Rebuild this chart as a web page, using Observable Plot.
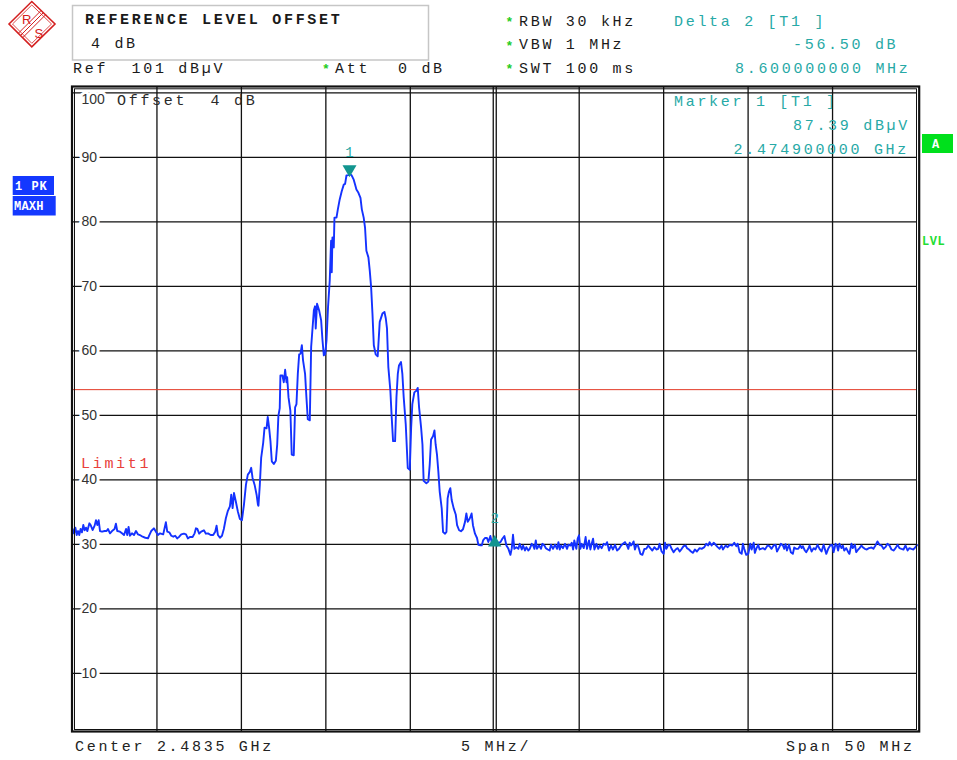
<!DOCTYPE html>
<html>
<head>
<meta charset="utf-8">
<script src="https://cdn.jsdelivr.net/npm/d3@7"></script>
<script src="https://cdn.jsdelivr.net/npm/@observablehq/plot@0.6"></script>
<style>
  html, body { margin: 0; padding: 0; background: #fff; }
  #wrap { position: relative; width: 957px; height: 760px; overflow: hidden; }
  #wrap svg { position: absolute; left: 0; top: 0; }
  text { white-space: pre; }
</style>
</head>
<body>
<div id="wrap"></div>
<script>
// ---- Analyzer settings ----
const centerGHz = 2.4835;
const spanMHz = 50;
const divMHz = 5;
const refLevel = 101;          // dBµV, top of the screen
const displayRange = 100;      // dB shown vertically
const refOffsetDb = 4;
const limitLevel = 54;         // Limit1, dBµV

// ---- Markers ----
const marker1FreqGHz = 2.4749;
const marker1Level = 87.39;
const deltaLevel = -56.50;
const deltaFreqMHz = 8.6;

// ---- Grid ----
const levelTicks = [10, 20, 30, 40, 50, 60, 70, 80, 90, 100];

// ---- Trace 1 (PK, max hold): [frequency MHz, level dBµV] ----
const lowerNoise = [
  [2458.51,32.40],[2458.59,31.72],[2458.67,32.60],[2458.75,31.46],[2458.83,32.08],[2458.90,31.46],[2458.98,32.40],
  [2459.06,31.88],[2459.14,33.02],[2459.22,32.19],[2459.30,32.60],[2459.38,32.08],[2459.50,33.28],[2459.57,33.02],
  [2459.69,32.24],[2459.81,32.92],[2459.89,33.75],[2459.97,33.02],[2460.05,33.75],[2460.13,32.08],[2460.25,31.98],
  [2460.40,32.08],[2460.52,32.08],[2460.60,32.40],[2460.72,31.72],[2460.84,32.08],[2460.99,32.40],[2461.07,33.23],
  [2461.15,32.08],[2461.31,31.98],[2461.43,31.72],[2461.55,31.46],[2461.67,32.40],[2461.74,31.46],[2461.82,32.71],
  [2461.90,31.35],[2462.02,31.72],[2462.14,31.46],[2462.26,32.08],[2462.38,31.56],[2462.49,31.46],[2462.65,31.20],
  [2462.81,31.04],[2462.97,30.94],[2463.05,31.46],[2463.16,32.08],[2463.32,32.50],[2463.44,31.98],[2463.56,31.46],
  [2463.68,31.72],[2463.87,31.56],[2464.03,33.44],[2464.11,31.98],[2464.23,31.88],[2464.35,31.35],[2464.47,31.20],
  [2464.58,31.35],[2464.70,30.94],[2464.82,31.20],[2464.94,31.56],[2465.10,31.67],[2465.22,31.56],[2465.33,30.94],
  [2465.45,31.15],[2465.61,31.15],[2465.73,31.72],[2465.81,32.50],[2465.89,32.40],[2466.00,31.67],[2466.12,31.98],
  [2466.28,32.19],[2466.40,31.67],[2466.52,31.72],[2466.68,31.46],[2466.83,31.46],[2466.95,31.98],[2467.03,32.92],
  [2467.11,31.46],[2467.23,31.04],[2467.35,31.35],[2467.46,32.40]
];
const signalBand = [
  [2467.58,34.06],[2467.70,35.21],[2467.82,35.89],[2467.90,37.71],[2467.98,35.63],[2468.06,37.97],[2468.17,36.67],
  [2468.29,35.10],[2468.41,33.96],[2468.53,33.75],[2468.65,36.15],[2468.77,39.27],[2468.88,40.83],[2469.00,41.25],
  [2469.08,41.88],[2469.16,40.31],[2469.28,39.27],[2469.40,37.71],[2469.48,36.15],[2469.51,36.00],[2469.59,39.24],
  [2469.67,43.41],[2469.79,45.76],[2469.87,48.11],[2469.99,48.00],[2470.06,49.78],[2470.14,48.11],[2470.22,46.02],
  [2470.30,42.89],[2470.42,42.47],[2470.54,42.99],[2470.62,45.50],[2470.69,49.93],[2470.77,51.13],[2470.81,56.19],
  [2470.93,56.19],[2471.01,55.15],[2471.09,57.08],[2471.17,55.15],[2471.21,55.93],[2471.29,52.80],[2471.40,50.71],
  [2471.48,43.93],[2471.60,43.83],[2471.68,51.24],[2471.76,51.76],[2471.84,56.45],[2471.92,59.48],[2472.00,59.58],
  [2472.08,60.89],[2472.15,58.54],[2472.27,56.45],[2472.35,52.80],[2472.43,49.41],[2472.55,49.25],[2472.63,60.63],
  [2472.79,66.31],[2472.86,66.92],[2472.90,63.49],[2472.98,67.33],[2473.10,66.31],[2473.22,64.77],[2473.30,61.69],
  [2473.38,59.32],[2473.46,59.48],[2473.54,61.69],[2473.63,66.82],[2473.73,70.92],[2473.81,77.08],[2473.85,72.21],
  [2473.89,77.59],[2473.97,76.05],[2474.01,80.67],[2474.13,80.67],[2474.21,81.95],[2474.32,83.49],[2474.44,84.77],
  [2474.56,85.79],[2474.64,85.90],[2474.72,87.20],[2474.83,87.25],[2474.90,87.39],[2475.00,87.30],[2475.07,87.00],
  [2475.15,86.56],[2475.23,85.79],[2475.31,85.03],[2475.43,84.51],[2475.55,83.74],[2475.63,81.95],[2475.74,80.67],
  [2475.82,79.13],[2475.90,75.54],[2476.02,74.51],[2476.10,72.46],[2476.18,69.90],[2476.26,65.79],[2476.34,60.89],
  [2476.45,59.48],[2476.57,59.17],[2476.69,64.51],[2476.85,65.79],[2476.97,66.05],[2477.05,65.03],[2477.12,63.49],
  [2477.20,57.50],[2477.32,53.84],[2477.40,49.67],[2477.48,46.02],[2477.60,46.02],[2477.68,52.80],[2477.76,56.45],
  [2477.83,57.76],[2477.95,58.28],[2478.03,56.45],[2478.11,52.80],[2478.23,48.63],[2478.35,41.85],[2478.47,41.59],
  [2478.55,48.11],[2478.62,51.76],[2478.74,53.58],[2478.86,53.84],[2478.94,54.26],[2479.02,51.24],[2479.14,48.11],
  [2479.22,45.50],[2479.29,39.86],[2479.45,39.50],[2479.57,39.76],[2479.65,42.37],[2479.73,46.28],[2479.85,46.80],
  [2479.93,47.69],[2480.00,45.50],[2480.08,43.93],[2480.16,41.32],[2480.24,38.20],[2480.36,35.59],[2480.44,31.93],
  [2480.56,31.67],[2480.64,31.93],[2480.71,37.15],[2480.79,38.20],[2480.87,38.72],[2480.95,36.89],[2481.07,35.59],
  [2481.19,34.65],[2481.27,32.98],[2481.39,32.20],[2481.50,32.04],[2481.62,32.35],[2481.74,33.50],[2481.82,34.80],
  [2481.90,33.50],[2482.02,34.02],[2482.13,34.80],[2482.21,32.98],[2482.33,31.67],[2482.45,31.00],[2482.53,29.95],
  [2482.65,29.85],[2482.73,29.85],[2482.81,30.63],[2482.92,31.00],[2483.04,31.00],[2483.12,30.37],[2483.24,31.31],
  [2483.32,30.37],[2483.44,30.27],[2483.50,30.89]
];
const upperNoise = [
  [2483.64,29.84],[2483.72,30.26],[2483.84,30.36],[2483.95,30.89],[2484.07,31.30],[2484.19,29.84],[2484.31,29.32],
  [2484.43,28.39],[2484.51,29.43],[2484.58,31.51],[2484.66,29.32],[2484.78,29.58],[2484.90,29.32],[2484.98,30.10],
  [2485.10,29.22],[2485.18,29.84],[2485.29,29.06],[2485.37,29.58],[2485.49,29.06],[2485.57,29.32],[2485.69,30.10],
  [2485.77,29.84],[2485.85,29.32],[2485.93,30.63],[2486.00,29.32],[2486.12,29.84],[2486.24,29.32],[2486.32,30.10],
  [2486.44,29.84],[2486.52,29.43],[2486.64,29.22],[2486.75,29.06],[2486.83,29.95],[2486.95,29.32],[2487.07,29.95],
  [2487.19,29.32],[2487.27,30.36],[2487.35,29.22],[2487.43,29.84],[2487.54,29.43],[2487.66,30.10],[2487.78,29.32],
  [2487.86,29.95],[2487.98,29.84],[2488.06,30.26],[2488.14,29.22],[2488.21,30.63],[2488.33,29.32],[2488.41,30.89],
  [2488.49,31.41],[2488.57,29.32],[2488.65,30.10],[2488.77,29.43],[2488.88,31.15],[2488.96,29.32],[2489.08,30.63],
  [2489.16,29.22],[2489.24,30.10],[2489.32,30.89],[2489.40,29.22],[2489.52,30.10],[2489.63,29.32],[2489.71,29.84],
  [2489.83,29.43],[2489.95,30.10],[2490.07,29.95],[2490.15,30.36],[2490.27,29.06],[2490.38,29.84],[2490.50,29.22],
  [2490.62,29.95],[2490.74,29.06],[2490.86,29.32],[2490.98,29.84],[2491.09,30.10],[2491.21,30.36],[2491.33,29.84],
  [2491.41,29.32],[2491.49,30.26],[2491.57,29.84],[2491.65,30.10],[2491.72,30.47],[2491.80,29.22],[2491.88,29.84],
  [2491.96,29.95],[2492.04,29.32],[2492.12,28.54],[2492.24,28.39],[2492.36,29.32],[2492.47,29.32],[2492.59,29.84],
  [2492.71,29.43],[2492.83,29.06],[2492.95,29.58],[2493.07,29.22],[2493.18,29.32],[2493.26,30.10],[2493.38,28.91],
  [2493.50,28.54],[2493.58,30.26],[2493.66,29.32],[2493.78,29.95],[2493.89,29.84],[2493.97,29.32],[2494.09,28.80],
  [2494.21,29.22],[2494.33,29.43],[2494.45,28.91],[2494.57,29.32],[2494.68,29.74],[2494.80,29.84],[2494.88,29.43],
  [2495.00,29.22],[2495.12,28.91],[2495.24,28.70],[2495.35,29.22],[2495.47,28.91],[2495.63,29.43],[2495.75,29.32],
  [2495.91,29.58],[2496.02,30.10],[2496.14,29.84],[2496.22,30.36],[2496.34,29.84],[2496.46,30.26],[2496.58,29.95],
  [2496.70,29.58],[2496.81,29.32],[2496.93,29.84],[2497.01,29.22],[2497.17,29.84],[2497.29,29.58],[2497.41,29.95],
  [2497.56,29.84],[2497.68,30.26],[2497.80,29.74],[2497.88,30.10],[2498.00,28.80],[2498.12,28.54],[2498.19,30.10],
  [2498.27,29.32],[2498.39,28.39],[2498.51,28.54],[2498.63,30.10],[2498.71,29.22],[2498.83,30.26],[2498.90,28.70],
  [2498.98,29.32],[2499.10,29.95],[2499.18,29.22],[2499.26,29.32],[2499.38,29.43],[2499.50,29.22],[2499.65,29.84],
  [2499.77,29.74],[2499.89,29.32],[2500.01,29.84],[2500.13,29.95],[2500.21,28.91],[2500.32,29.43],[2500.44,30.10],
  [2500.56,29.84],[2500.64,29.32],[2500.72,30.05],[2500.80,29.06],[2500.92,29.95],[2501.03,28.80],[2501.15,28.54],
  [2501.23,29.53],[2501.35,29.32],[2501.47,29.32],[2501.59,29.84],[2501.67,29.43],[2501.74,29.74],[2501.86,29.06],
  [2501.94,28.80],[2502.06,29.32],[2502.14,29.84],[2502.26,28.91],[2502.38,29.43],[2502.49,29.22],[2502.61,29.95],
  [2502.73,29.32],[2502.85,28.91],[2502.97,29.95],[2503.13,28.54],[2503.24,29.32],[2503.36,29.84],[2503.48,29.95],
  [2503.56,28.80],[2503.68,30.10],[2503.76,29.84],[2503.83,29.06],[2503.91,30.10],[2504.03,29.43],[2504.11,29.84],
  [2504.19,29.06],[2504.31,29.43],[2504.43,28.80],[2504.50,28.54],[2504.62,30.10],[2504.70,29.43],[2504.82,29.95],
  [2504.90,28.80],[2505.02,29.22],[2505.10,29.43],[2505.21,29.84],[2505.29,29.58],[2505.41,29.32],[2505.53,29.22],
  [2505.65,29.43],[2505.81,29.53],[2505.92,29.32],[2506.04,29.84],[2506.16,30.47],[2506.28,29.95],[2506.40,29.84],
  [2506.52,29.32],[2506.63,29.58],[2506.75,30.10],[2506.87,29.84],[2506.99,29.22],[2507.11,29.06],[2507.23,29.43],
  [2507.35,29.95],[2507.46,29.43],[2507.58,29.32],[2507.70,29.22],[2507.82,29.84],[2507.94,29.06],[2508.05,29.43],
  [2508.17,29.32],[2508.29,29.22],[2508.41,29.58],[2508.50,29.90]
];

// ---- Derived values ----
const centerMHz = centerGHz * 1000;
const startMHz = centerMHz - spanMHz / 2;
const stopMHz = centerMHz + spanMHz / 2;
const trace = [...lowerNoise, ...signalBand, ...upperNoise].map(([f, level]) => ({f, level}));
const marker1 = [{id: "1", f: marker1FreqGHz * 1000, level: marker1Level}];
const marker2 = [{id: "2", f: marker1FreqGHz * 1000 + deltaFreqMHz, level: marker1Level + deltaLevel}];
const divisions = d3.range(1, spanMHz / divMHz).map(i => startMHz + i * divMHz);
const sideGrid = divisions.filter(f => Math.abs(f - centerMHz) > 1e-6);

const MONO = "'Liberation Mono', 'Courier New', monospace";
const SANS = "'Liberation Sans', Arial, sans-serif";
const TEAL = "#27a9a6";
const MARK = "#12958f";
const GRID = "#111";

const chart = Plot.plot({
  width: 957,
  height: 760,
  marginLeft: 72,
  marginRight: 40.5,
  marginTop: 86,
  marginBottom: 29,
  x: {domain: [startMHz, stopMHz], axis: null},
  y: {domain: [refLevel - displayRange, refLevel], axis: null},
  style: {background: "white"},
  marks: [
    Plot.ruleY(levelTicks, {stroke: GRID, strokeWidth: 1.3}),
    Plot.ruleX(sideGrid, {stroke: GRID, strokeWidth: 1.3}),
    Plot.ruleX([centerMHz], {stroke: GRID, strokeWidth: 1.3, dx: -1.5}),
    Plot.ruleX([centerMHz], {stroke: GRID, strokeWidth: 1.3, dx: 1.5}),
    Plot.ruleY([limitLevel], {stroke: "#e33a26", strokeWidth: 1}),
    // level scale labels sit inside the grid with a white knock-out
    Plot.text(levelTicks.filter(v => v < 100), {
      y: d => d, text: d => String(d), frameAnchor: "left", dx: 9, textAnchor: "start",
      fill: "#333", stroke: "white", strokeWidth: 6, fontFamily: SANS, fontSize: 14,
      style: "letter-spacing:1.6px"
    }),
    Plot.text([100], {
      y: d => d, text: d => String(d), frameAnchor: "left", dx: 9, dy: 7, textAnchor: "start",
      fill: "#333", stroke: "white", strokeWidth: 6, fontFamily: SANS, fontSize: 14,
      style: "letter-spacing:1.6px"
    }),
    Plot.line(trace, {x: "f", y: "level", stroke: "#1432ff", strokeWidth: 1.9, strokeLinejoin: "round"}),
    // marker 1: downward triangle resting on the trace
    Plot.dot(marker1, {x: "f", y: "level", symbol: "triangle", rotate: 180, r: 5.2, fill: MARK, dy: -5}),
    Plot.text(marker1, {x: "f", y: "level", text: "id", dy: -22, fill: TEAL, fontFamily: MONO, fontSize: 14}),
    // marker 2 (delta): upward triangle
    Plot.dot(marker2, {x: "f", y: "level", symbol: "triangle", r: 5, fill: MARK, dy: 4}),
    Plot.text(marker2, {x: "f", y: "level", text: "id", dy: -20, fill: TEAL, fontFamily: MONO, fontSize: 14}),
    Plot.frame({stroke: GRID, strokeWidth: 2.2, insetLeft: -0.5, insetRight: -2.2, insetTop: 0, insetBottom: 0}),
    Plot.frame({stroke: GRID, strokeWidth: 1, insetLeft: 2, insetRight: 0.5, insetTop: 2.3, insetBottom: 2})
  ]
});

const wrap = document.getElementById("wrap");
wrap.appendChild(chart);

// ---- Instrument annotations around the diagram ----
const ov = d3.select(wrap).append("svg").attr("width", 957).attr("height", 760)
  .style("pointer-events", "none");

function label(x, y, s, {fill = "#1a1a1a", weight = "normal", size = 15, spacing = 2.7, family = MONO, anchor = "start"} = {}) {
  ov.append("text").attr("x", x).attr("y", y).text(s)
    .attr("fill", fill).attr("font-family", family).attr("font-size", size)
    .attr("font-weight", weight).attr("text-anchor", anchor)
    .style("letter-spacing", spacing + "px");
}
function star(x, y) {
  label(x, y, "*", {fill: "#22cc22", weight: "bold", size: 13, spacing: 0});
}

// logo
const logo = ov.append("g").attr("stroke", "#d42020").attr("fill", "none");
logo.append("polygon").attr("points", "9,24 31.8,1.5 55,24 31.8,46.8").attr("stroke-width", 1.6);
logo.append("polygon").attr("points", "12.5,24 31.8,5 51.5,24 31.8,43.3").attr("stroke-width", 0.8);
[-2.2, 0, 2.2].forEach(o => {
  logo.append("line").attr("x1", 20.5 + o).attr("y1", 35.5 + o).attr("x2", 43.5 + o).attr("y2", 12.5 + o)
    .attr("stroke-width", 1);
});
ov.append("text").attr("x", 22).attr("y", 24).text("R").attr("fill", "#d42020")
  .attr("font-family", SANS).attr("font-size", 13);
ov.append("text").attr("x", 34.5).attr("y", 37.5).text("S").attr("fill", "#d42020")
  .attr("font-family", SANS).attr("font-size", 13);

// reference level offset box
ov.append("rect").attr("x", 72.5).attr("y", 5.5).attr("width", 356).attr("height", 54.5)
  .attr("fill", "none").attr("stroke", "#c6c6c6").attr("stroke-width", 1.5);
label(85, 24, "REFERENCE LEVEL OFFSET", {weight: "bold"});
label(91, 48, `${refOffsetDb} dB`);

label(73, 72.5, `Ref  ${refLevel} dBµV`);
star(322, 73);
label(335, 72.5, "Att");
label(398, 72.5, "0 dB");

star(505.5, 26);
label(519, 25.5, "RBW 30 kHz");
star(505.5, 49.5);
label(519, 49, "VBW 1 MHz");
star(505.5, 73);
label(519, 72.5, "SWT 100 ms");

label(674, 25.5, "Delta 2 [T1 ]", {fill: TEAL});
label(793, 49, `${deltaLevel.toFixed(2)} dB`, {fill: TEAL});
label(735, 72.5, `${deltaFreqMHz.toFixed(9)} MHz`, {fill: TEAL});

label(674, 106, "Marker 1 [T1 ]", {fill: TEAL});
label(793, 130, `${marker1Level.toFixed(2)} dBµV`, {fill: TEAL});
label(733.5, 153.5, `${marker1FreqGHz.toFixed(9)} GHz`, {fill: TEAL});

label(117, 105, `Offset  ${refOffsetDb} dB`, {fill: "#2a2a2a"});
label(81, 467.5, "Limit1", {fill: "#e8403a"});

label(75, 750.5, `Center ${centerGHz} GHz`, {fill: "#222"});
label(461, 750.5, `${divMHz} MHz/`, {fill: "#222"});
label(786, 750.5, `Span ${spanMHz} MHz`, {fill: "#222"});

// trace status boxes
ov.append("rect").attr("x", 12.7).attr("y", 176).attr("width", 41.3).attr("height", 19).attr("fill", "#1438ff");
ov.append("rect").attr("x", 12.7).attr("y", 196).attr("width", 43).attr("height", 19.5).attr("fill", "#1438ff");
label(15, 190, "1 PK", {fill: "white", weight: "bold", size: 12, spacing: 1});
label(14, 210, "MAXH", {fill: "white", weight: "bold", size: 12, spacing: 0.2});

ov.append("rect").attr("x", 922).attr("y", 134).attr("width", 31).attr("height", 19).attr("fill", "#00e01c");
label(932, 148, "A", {fill: "white", weight: "bold", size: 12, spacing: 0});
label(922, 245, "LVL", {fill: "#22dd33", weight: "bold", size: 12, spacing: 0.5});
</script>
</body>
</html>
